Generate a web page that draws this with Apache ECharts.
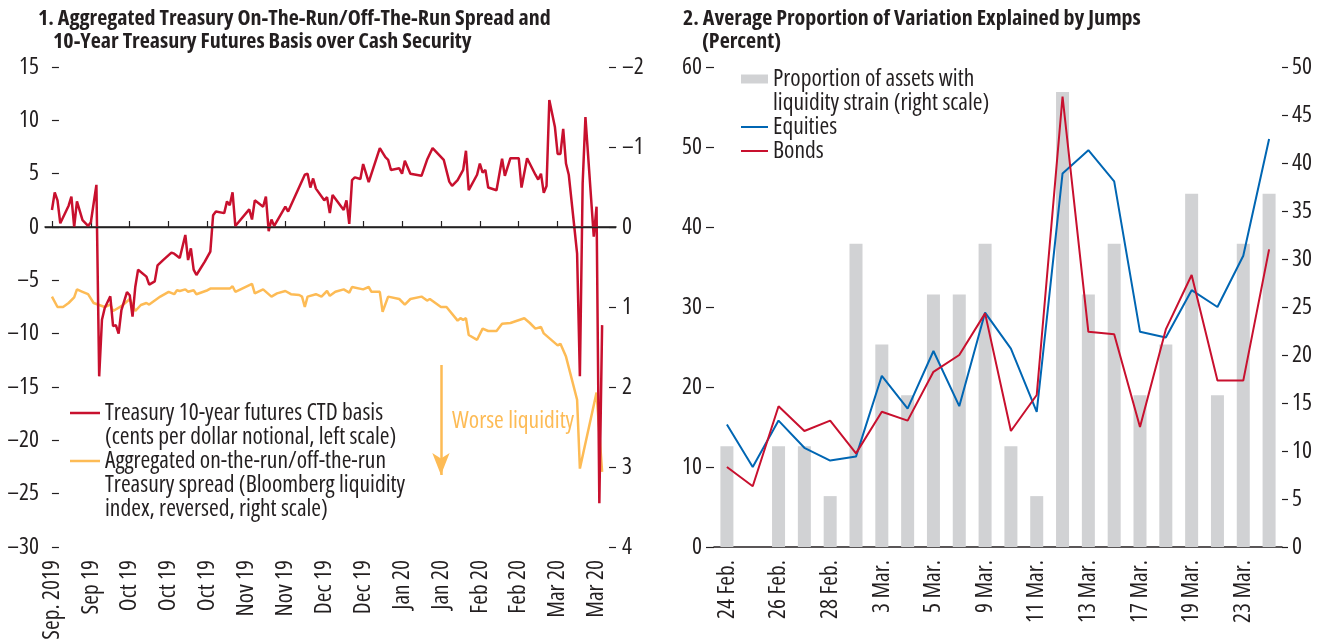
<!DOCTYPE html>
<html>
<head>
<meta charset="utf-8">
<script src="https://cdn.jsdelivr.net/npm/echarts@6.0.0/dist/echarts.min.js"></script>
<style>
  html, body { margin: 0; padding: 0; background: #fff; }
  #chart { width: 1332px; height: 644px; }
</style>
</head>
<body>
<div id="chart"></div>
<script>
// ---- panel 1: days since 3 Sep 2019 ----
const tickDays = [0, 14, 28, 42, 56, 70, 84, 98, 112, 126, 140, 154, 168, 182, 196];
const tickLabels = ["Sep. 2019", "Sep 19", "Oct 19", "Oct 19", "Oct 19", "Nov 19", "Nov 19",
  "Dec 19", "Dec 19", "Jan 20", "Jan 20", "Feb 20", "Feb 20", "Mar 20", "Mar 20"];

const ctdDays = [0, 1, 2, 3, 6, 7, 8, 9, 11, 13, 14, 16, 17, 18, 19, 21, 22, 23, 24, 25, 27, 28, 29,
  30, 31, 34, 35, 37, 38, 40, 43, 44, 46, 48, 49, 50, 51, 52, 55, 57, 58, 59, 62, 63, 64, 65, 66,
  71, 72, 73, 76, 77, 78, 79, 80, 84, 85, 91, 92, 93, 94, 95, 98, 99, 100, 101, 105, 106, 107,
  108, 109, 111, 112, 114, 118, 120, 121, 122, 125, 126, 127, 129, 133, 135, 137, 141, 143, 144,
  146, 148, 149, 150, 153, 154, 155, 156, 157, 160, 162, 163, 165, 168, 169, 171, 174, 175, 176,
  177, 178, 179, 181, 182, 183, 184, 185, 186, 188, 189, 190, 191, 192, 195, 196, 197, 198];
const ctdBasis = [1.6, 3.25, 2.5, 0.35, 2.0, 2.85, 0.0, 2.4, 0.65, 0.1, 0.45, 3.95, -14.0, -8.7,
  -7.6, -6.5, -9.3, -9.2, -10.0, -7.8, -6.1, -6.4, -8.4, -5.6, -4.0, -4.65, -5.4, -5.1, -3.6,
  -3.1, -2.4, -2.5, -2.9, -0.75, -3.1, -2.0, -4.0, -4.5, -3.25, -2.3, 1.1, 1.45, 1.3, 2.4, 2.05,
  3.25, 0.1, 1.65, 0.7, 2.5, 1.9, 2.85, -0.4, 0.7, 0.1, 1.9, 1.45, 4.9, 5.0, 3.7, 4.55, 3.6, 2.5,
  2.8, 1.3, 3.0, 1.6, 2.5, 0.3, 4.4, 4.65, 4.5, 5.9, 4.2, 7.4, 6.55, 6.3, 5.35, 5.5, 5.0, 6.2,
  5.0, 4.8, 6.3, 7.4, 6.3, 4.25, 3.85, 4.4, 5.35, 7.15, 3.45, 4.9, 5.95, 5.1, 5.35, 3.7, 3.45,
  6.4, 4.8, 6.45, 6.45, 3.7, 6.45, 4.9, 4.45, 5.0, 3.2, 3.85, 11.9, 9.4, 6.85, 6.85, 9.2, 5.95,
  4.9, 0.0, -2.5, -14.0, 4.1, 10.3, -0.9, 1.9, -25.9, -9.2];

const spreadDays = [0, 2, 4, 6, 8, 9, 11, 13, 15, 17, 19, 21, 22, 25, 28, 29, 30, 32, 34, 35, 39,
  42, 44, 45, 46, 48, 49, 51, 52, 56, 57, 64, 65, 66, 72, 73, 76, 79, 81, 84, 86, 89, 90, 91, 92,
  95, 97, 99, 100, 102, 105, 107, 108, 112, 114, 115, 118, 119, 121, 125, 127, 129, 133, 135,
  136, 140, 142, 146, 147, 148, 149, 150, 153, 155, 157, 160, 162, 165, 170, 172, 174, 176, 177,
  182, 183, 185, 189, 190, 196, 198];
const spreadIndex = [0.87, 1.0, 1.0, 0.95, 0.88, 0.78, 0.81, 0.84, 0.95, 0.975, 1.0, 0.97, 1.05,
  0.99, 0.9, 0.975, 1.05, 0.975, 0.95, 0.97, 0.87, 0.81, 0.84, 0.79, 0.8, 0.78, 0.81, 0.79, 0.84,
  0.79, 0.77, 0.77, 0.74, 0.81, 0.71, 0.83, 0.78, 0.87, 0.83, 0.8, 0.84, 0.85, 0.87, 1.0, 0.87,
  0.84, 0.87, 0.8, 0.86, 0.81, 0.78, 0.82, 0.75, 0.78, 0.75, 0.81, 0.81, 1.06, 0.87, 0.9, 0.97,
  0.9, 0.87, 0.92, 0.9, 1.0, 1.0, 1.17, 1.14, 1.16, 1.14, 1.35, 1.41, 1.27, 1.3, 1.3, 1.21, 1.2,
  1.14, 1.2, 1.27, 1.25, 1.33, 1.48, 1.46, 1.62, 2.16, 3.02, 2.07, 3.06];

// ---- panel 2 ----
const dates = ["24 Feb.", "25 Feb.", "26 Feb.", "27 Feb.", "28 Feb.", "2 Mar.", "3 Mar.", "4 Mar.",
  "5 Mar.", "6 Mar.", "9 Mar.", "10 Mar.", "11 Mar.", "12 Mar.", "13 Mar.", "16 Mar.", "17 Mar.",
  "18 Mar.", "19 Mar.", "20 Mar.", "23 Mar.", "24 Mar."];
const strain = [10.5, 0, 10.5, 10.5, 5.3, 31.6, 21.1, 15.8, 26.3, 26.3, 31.6, 10.5, 5.3, 47.4,
  26.3, 31.6, 15.8, 21.1, 36.8, 15.8, 31.6, 36.8];
const equities = [15.3, 10.0, 15.8, 12.4, 10.8, 11.3, 21.4, 17.3, 24.5, 17.6, 29.3, 24.8, 16.9,
  46.7, 49.6, 45.7, 26.9, 26.2, 32.1, 30.0, 36.4, 51.0];
const bonds = [10.0, 7.6, 17.6, 14.5, 15.8, 11.7, 16.9, 15.8, 21.9, 24.0, 29.2, 14.5, 19.0, 56.3,
  26.9, 26.6, 15.0, 27.2, 34.0, 20.8, 20.8, 37.2];

const CTD_NAME = "Treasury 10-year futures CTD basis\n(cents per dollar notional, left scale)";
const SPREAD_NAME = "Aggregated on-the-run/off-the-run\nTreasury spread (Bloomberg liquidity\nindex, reversed, right scale)";
const STRAIN_NAME = "Proportion of assets with\nliquidity strain (right scale)";
const TITLE_1 = "1. Aggregated Treasury On-The-Run/Off-The-Run Spread and";

const RED = "#c8102e";
const YELLOW = "#fdbb55";
const BLUE = "#0066b3";
const GREY = "#d1d2d4";
const INK = "#231f20";

// pick a condensed face if one is installed, then size text so a legend line keeps its width
const probe = document.createElement("canvas").getContext("2d");
function measure(font, s) {
  probe.font = font;
  return probe.measureText(s).width;
}
function pickFont() {
  const sample = "Treasury 10-year futures";
  const mono = measure("40px monospace", sample);
  const candidates = [
    { stretch: "", family: "Liberation Sans Narrow" },
    { stretch: "", family: "Noto Sans Condensed" },
    { stretch: "condensed", family: "Noto Sans" },
    { stretch: "condensed", family: "Open Sans" },
    { stretch: "condensed", family: "Roboto" },
  ];
  for (const c of candidates) {
    const normal = measure(`40px "${c.family}", monospace`, sample);
    if (normal === mono) continue;
    if (!c.stretch) return c;
    measure("40px monospace", sample);
    const narrow = measure(`${c.stretch} 40px "${c.family}", monospace`, sample);
    if (narrow < normal * 0.93) return c;
  }
  return { stretch: "", family: "Liberation Sans" };
}
const PICK = pickFont();
const FONT = PICK.family;
const STRETCH = PICK.stretch || "normal";
const pre = PICK.stretch ? PICK.stretch + " " : "";
const FS = Math.round((40 * 279 / measure(`${pre}40px "${FONT}"`, "Treasury 10-year futures CTD basis")) * 2) / 2;
const TS = Math.round((40 * 515 / measure(`${pre}bold 40px "${FONT}"`, TITLE_1)) * 2) / 2;

const minus = (v) => (v < 0 ? "\u2013" + Math.abs(v) : String(v));
const text = { fontFamily: FONT, fontStyle: STRETCH, fontSize: FS, color: INK };
const titleStyle = { fontFamily: FONT, fontStyle: STRETCH, fontSize: TS, fontWeight: "bold", color: INK };

const chart = echarts.init(document.getElementById("chart"));

const options = {
  animation: false,
  textStyle: { fontFamily: FONT, fontStyle: STRETCH },
  title: [
    { text: TITLE_1, left: 38, top: 8, padding: 0, textStyle: titleStyle },
    { text: "10-Year Treasury Futures Basis over Cash Security", left: 53, top: 31, padding: 0, textStyle: titleStyle },
    { text: "2. Average Proportion of Variation Explained by Jumps", left: 683, top: 8, padding: 0, textStyle: titleStyle },
    { text: "(Percent)", left: 702, top: 31, padding: 0, textStyle: titleStyle },
  ],
  legend: [
    {
      data: [{ name: CTD_NAME, icon: "path://M0,0H12V1H0Z" }],
      formatter: (name) => "\n" + name,
      orient: "vertical", left: 70, top: 377, padding: 0,
      itemWidth: 30, itemHeight: 14,
      textStyle: { ...text, lineHeight: 24 },
    },
    {
      data: [{ name: SPREAD_NAME, icon: "path://M0,0H12V1H0Z" }],
      formatter: (name) => "\n\n" + name,
      orient: "vertical", left: 70, top: 401, padding: 0,
      itemWidth: 30, itemHeight: 14,
      textStyle: { ...text, lineHeight: 24 },
    },
    {
      data: [
        { name: STRAIN_NAME, icon: "rect" },
        { name: "Equities", icon: "path://M0,0H13.5V1H0Z" },
        { name: "Bonds", icon: "path://M0,0H13.5V1H0Z" },
      ],
      formatter: (name) => (name === STRAIN_NAME ? "\n" + name : name),
      orient: "vertical", left: 741, top: 43, padding: 0, itemGap: 0,
      itemWidth: 27, itemHeight: 9,
      textStyle: { ...text, lineHeight: 24 },
    },
  ],
  grid: [
    { left: 45, top: 67, width: 571, height: 480 },
    { left: 714, top: 67, width: 568, height: 480 },
  ],
  xAxis: [
    {
      type: "value", gridIndex: 0, min: -2.5, max: 203,
      splitLine: { show: false },
      axisLine: { lineStyle: { color: INK, width: 1.5 } },
      axisTick: { customValues: tickDays, inside: true, length: 6, lineStyle: { color: INK, width: 1.2 } },
      axisLabel: {
        customValues: tickDays, rotate: 90, margin: 13, ...text,
        formatter: (v) => tickLabels[tickDays.indexOf(v)],
      },
    },
    {
      type: "category", gridIndex: 1, data: dates, boundaryGap: true,
      axisLine: { lineStyle: { color: INK, width: 1.5 } },
      axisTick: { interval: 0, inside: true, length: 6, lineStyle: { color: INK, width: 1.2 } },
      axisLabel: { interval: 1, rotate: 90, margin: 13, ...text },
    },
  ],
  yAxis: [
    {
      type: "value", gridIndex: 0, position: "left", min: -30, max: 15, interval: 5,
      splitLine: { show: false }, axisLine: { show: false },
      axisTick: { show: true, inside: true, length: 7, lineStyle: { color: INK, width: 1.2 } },
      axisLabel: { margin: 6, ...text, formatter: minus },
    },
    {
      type: "value", gridIndex: 0, position: "right", min: -2, max: 4, interval: 1, inverse: true,
      splitLine: { show: false }, axisLine: { show: false },
      axisTick: { show: true, inside: true, length: 7, lineStyle: { color: INK, width: 1.2 } },
      axisLabel: { margin: 6, ...text, formatter: minus },
    },
    {
      type: "value", gridIndex: 1, position: "left", min: 0, max: 60, interval: 10,
      splitLine: { show: false }, axisLine: { show: false },
      axisTick: { show: true, length: 8, lineStyle: { color: INK, width: 1.2 } },
      axisLabel: { margin: 12, ...text },
    },
    {
      type: "value", gridIndex: 1, position: "right", min: 0, max: 50, interval: 5,
      splitLine: { show: false }, axisLine: { show: false },
      axisTick: { show: true, length: 6, lineStyle: { color: INK, width: 1.2 } },
      axisLabel: { margin: 10, ...text },
    },
  ],
  series: [
    {
      name: SPREAD_NAME, type: "line", xAxisIndex: 0, yAxisIndex: 1,
      data: spreadDays.map((d, i) => [d, spreadIndex[i]]),
      showSymbol: false, symbol: "none",
      lineStyle: { color: YELLOW, width: 2.5 }, itemStyle: { color: YELLOW },
      markLine: {
        silent: true, symbol: ["none", "arrow"], symbolSize: [13, 22],
        lineStyle: { color: YELLOW, width: 2.5, type: "solid" },
        label: { show: false },
        data: [[{ coord: [140, 1.725] }, { coord: [140, 3.1] }]],
      },
      markPoint: {
        silent: true, symbol: "circle", symbolSize: 0,
        label: {
          show: true, position: "right", distance: 0, formatter: "Worse liquidity",
          fontFamily: FONT, fontStyle: STRETCH, fontSize: FS, color: YELLOW,
        },
        data: [{ coord: [144, 2.425] }],
      },
    },
    {
      name: CTD_NAME, type: "line", xAxisIndex: 0, yAxisIndex: 0,
      data: ctdDays.map((d, i) => [d, ctdBasis[i]]),
      showSymbol: false, symbol: "none",
      lineStyle: { color: RED, width: 2.5 }, itemStyle: { color: RED },
      markLine: {
        silent: true, symbol: "none",
        lineStyle: { color: "#222", width: 1.3, type: "solid" },
        label: { show: false },
        data: [{ yAxis: 0 }],
      },
    },
    {
      name: STRAIN_NAME, type: "bar", xAxisIndex: 1, yAxisIndex: 3,
      data: strain, barWidth: 13, itemStyle: { color: GREY },
    },
    {
      name: "Equities", type: "line", xAxisIndex: 1, yAxisIndex: 2,
      data: equities, showSymbol: false, symbol: "none",
      lineStyle: { color: BLUE, width: 2 }, itemStyle: { color: BLUE },
    },
    {
      name: "Bonds", type: "line", xAxisIndex: 1, yAxisIndex: 2,
      data: bonds, showSymbol: false, symbol: "none",
      lineStyle: { color: RED, width: 2 }, itemStyle: { color: RED },
    },
  ],
};

chart.setOption(options);
</script>
</body>
</html>
